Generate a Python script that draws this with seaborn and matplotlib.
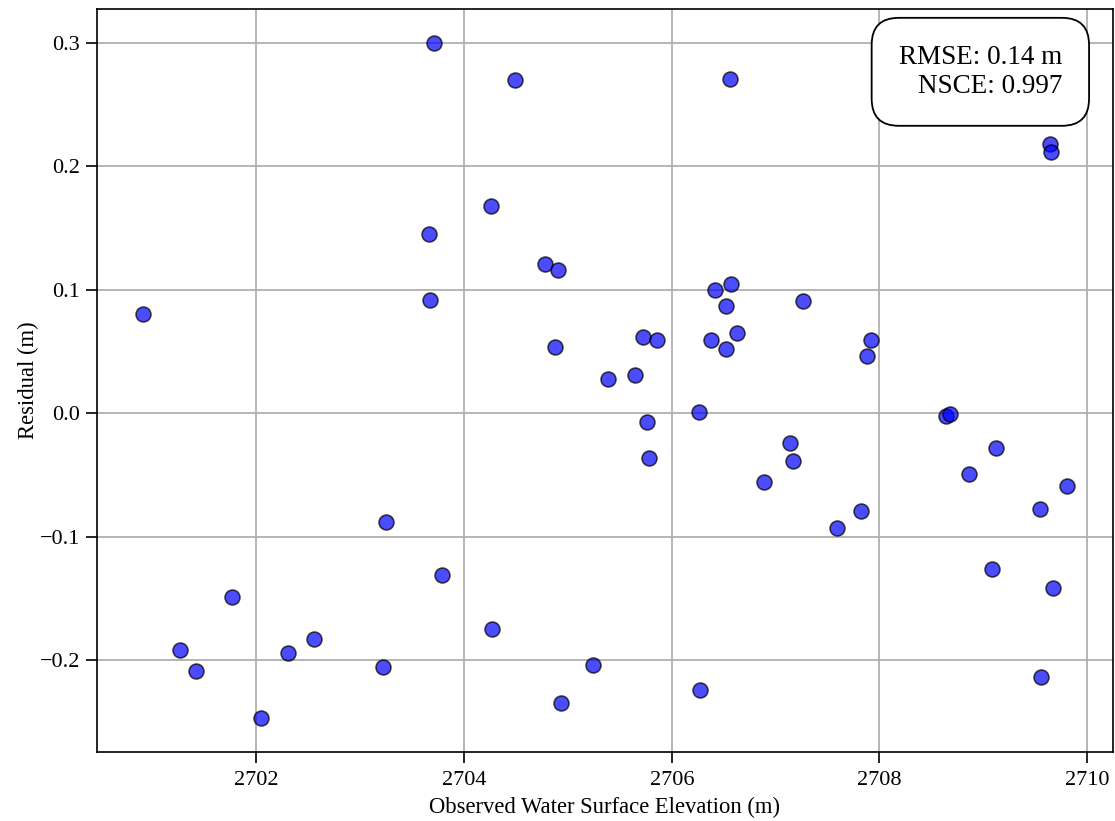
import matplotlib
matplotlib.use("Agg")
import matplotlib.pyplot as plt
import seaborn as sns
import pandas as pd

# Observed water surface elevation (m) and model residual (m)
observed = [
    2700.909, 2701.265, 2701.415, 2701.769, 2702.045, 2702.305, 2702.552,
    2703.216, 2703.249, 2703.663, 2703.673, 2703.711, 2703.791, 2704.256,
    2704.270, 2704.487, 2704.783, 2704.873, 2704.908, 2704.930, 2705.238,
    2705.383, 2705.649, 2705.724, 2705.759, 2705.781, 2705.862, 2706.265,
    2706.274, 2706.378, 2706.420, 2706.519, 2706.526, 2706.564, 2706.567,
    2706.625, 2706.892, 2707.141, 2707.170, 2707.265, 2707.588, 2707.819,
    2707.881, 2707.916, 2708.639, 2708.680, 2708.859, 2709.084, 2709.119,
    2709.550, 2709.556, 2709.643, 2709.650, 2709.668, 2709.803,
]
residual = [
    0.080, -0.192, -0.209, -0.149, -0.247, -0.194, -0.183,
    -0.206, -0.088, 0.145, 0.092, 0.300, -0.131, 0.168,
    -0.175, 0.270, 0.121, 0.054, 0.116, -0.235, -0.204,
    0.028, 0.031, 0.062, -0.007, -0.036, 0.0595, 0.001,
    -0.224, 0.059, 0.100, 0.052, 0.0865, 0.271, 0.105,
    0.065, -0.056, -0.024, -0.039, 0.091, -0.093, -0.079,
    0.046, 0.0595, -0.002, -0.001, -0.049, -0.126, -0.028,
    -0.0775, -0.214, 0.218, 0.212, -0.142, -0.059,
]
rmse_label = "RMSE: 0.14 m"
nsce_label = "NSCE: 0.997"

df = pd.DataFrame({"observed": observed, "residual": residual})

sns.set_theme(style="ticks")
plt.rcParams["font.family"] = ["Liberation Serif", "DejaVu Serif"]
plt.rcParams["axes.unicode_minus"] = True

fig, ax = plt.subplots(figsize=(11.15, 8.21), dpi=100)
fig.subplots_adjust(left=0.087, right=0.998, top=0.9887, bottom=0.0844)

sns.scatterplot(
    data=df, x="observed", y="residual", ax=ax,
    color="blue", alpha=0.7, edgecolor="black", linewidth=1.2, s=115,
    zorder=3,
)

ax.grid(True, color="#b0b0b0", linewidth=1.3, zorder=0)
ax.set_axisbelow(True)
for side in ax.spines.values():
    side.set_color("black")
    side.set_linewidth(1.2)

ax.tick_params(axis="both", labelsize=16, length=8, width=1.2, pad=4,
               color="black", labelcolor="black", direction="out")
ax.tick_params(axis="x", pad=6)
ax.set_xlabel("Observed Water Surface Elevation (m)", fontsize=16.3,
              color="black", labelpad=5)
ax.set_ylabel("Residual (m)", fontsize=16.3, color="black", labelpad=1)

ax.text(
    0.95, 0.952, f"{rmse_label}\n{nsce_label}",
    transform=ax.transAxes, ha="right", va="top", fontsize=19.5, color="black",
    bbox=dict(boxstyle="round,pad=1", facecolor="white", edgecolor="black",
              linewidth=1.3),
    zorder=5,
)

fig.savefig("out.png", dpi=100)
